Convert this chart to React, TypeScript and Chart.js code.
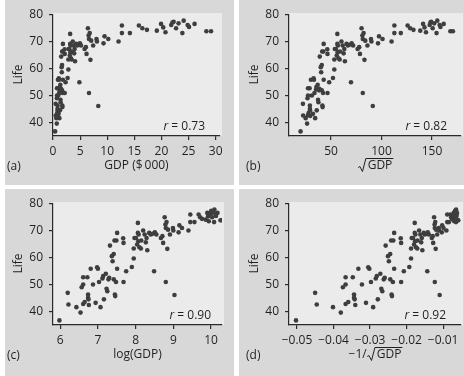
import React, { useEffect, useRef } from 'react';
import { Chart, registerables } from 'chart.js';

Chart.register(...registerables);

// natural log of GDP per head ($)
const lnGdp = [
  5.98, 6.2, 6.22, 6.43, 6.54, 6.57, 6.61, 6.61, 6.61, 6.65,
  6.72, 6.74, 6.74, 6.75, 6.76, 6.81, 6.87, 6.94, 6.98, 7.0,
  7.03, 7.07, 7.12, 7.14, 7.16, 7.21, 7.23, 7.25, 7.28, 7.3,
  7.32, 7.37, 7.39, 7.42, 7.42, 7.44, 7.45, 7.46, 7.48, 7.49,
  7.51, 7.51, 7.67, 7.68, 7.68, 7.75, 7.9, 7.95, 7.95, 7.97,
  8.01, 8.04, 8.06, 8.06, 8.07, 8.08, 8.1, 8.14, 8.15, 8.2,
  8.24, 8.27, 8.29, 8.31, 8.36, 8.4, 8.45, 8.51, 8.49, 8.55,
  8.67, 8.71, 8.73, 8.77, 8.79, 8.8, 8.8, 8.82, 8.84, 8.86,
  8.91, 8.99, 9.0, 9.03, 9.14, 9.16, 9.23, 9.4, 9.45, 9.45,
  9.56, 9.67, 9.71, 9.76, 9.86, 9.9, 9.92, 9.94, 9.99, 10.01,
  10.03, 10.05, 10.08, 10.09, 10.12, 10.17, 10.25, 10.28, 10.13, 10.0,
];
// life expectancy (years)
const life = [
  36.9, 47.1, 42.8, 41.8, 39.8, 49.2, 52.9, 50.2, 43.0, 43.7,
  52.9, 46.5, 45.3, 44.7, 42.6, 56.0, 50.2, 43.4, 56.6, 56.0,
  51.1, 41.8, 52.4, 53.3, 44.7, 54.2, 48.6, 47.7, 52.1, 52.7,
  64.6, 60.7, 58.8, 61.5, 52.1, 66.5, 46.5, 45.9, 51.1, 66.5,
  69.3, 56.0, 67.3, 65.6, 51.1, 55.1, 56.7, 59.8, 63.5, 67.4,
  67.4, 65.0, 69.3, 73.0, 66.2, 68.7, 64.0, 63.5, 66.5, 70.2,
  68.7, 65.8, 67.4, 62.9, 69.3, 68.7, 69.0, 69.5, 55.1, 68.7,
  67.4, 68.1, 65.6, 75.1, 72.4, 71.1, 51.1, 73.3, 63.4, 70.5,
  68.7, 71.1, 70.2, 46.3, 69.5, 72.1, 71.1, 70.2, 76.1, 73.3,
  73.3, 76.1, 75.1, 74.5, 74.2, 76.7, 75.4, 73.6, 76.3, 77.5,
  75.1, 76.9, 73.3, 77.9, 76.3, 76.7, 74.0, 74.0, 75.6, 77.2,
];

const yTicks = [40, 50, 60, 70, 80];
const xTicksA = [0, 5, 10, 15, 20, 25, 30];
const xTicksB = [50, 100, 150];
const xTicksC = [6, 7, 8, 9, 10];
const xTicksD = [-0.05, -0.04, -0.03, -0.02, -0.01];
const rValues = ['0.73', '0.82', '0.90', '0.92'];
const panelLabels = ['(a)', '(b)', '(c)', '(d)'];

const FONT = '"Open Sans", "DejaVu Sans", sans-serif';
const TEXT = '#231f20';
const AXIS = '#2a2a2a';
const OUTER = '#d8d8d8';
const INNER = '#ebebeb';
const DOT = '#3e3e3e';

type Panel = {
  box: { left: number; top: number; w: number; h: number };
  area: { left: number; right: number; top: number; bottom: number };
  xMin: number;
  xMax: number;
  xTicks: number[];
  xs: number[];
  titleParts: { pre: string; rad: boolean; post: string };
  label: string;
  labelX: number;
  lifeX: number;
  r: string;
  rRight: number;
  fmt: (v: number) => string;
};

const minus = (s: string) => s.replace('-', '\u2212');

const panels: Panel[] = [
  {
    box: { left: 5, top: 0, w: 229, h: 185 },
    area: { left: 48, right: 215, top: 15, bottom: 136 },
    xMin: 0, xMax: 30.8, xTicks: xTicksA,
    xs: lnGdp.map((v) => Math.exp(v) / 1000),
    titleParts: { pre: 'GDP ($\u2009000)', rad: false, post: '' },
    label: panelLabels[0], labelX: 2, lifeX: 14, r: rValues[0], rRight: 200,
    fmt: (v) => String(v),
  },
  {
    box: { left: 239, top: 0, w: 225, h: 185 },
    area: { left: 50, right: 222, top: 15, bottom: 136 },
    xMin: 8.4, xMax: 178.7, xTicks: xTicksB,
    xs: lnGdp.map((v) => Math.exp(v / 2)),
    titleParts: { pre: '', rad: true, post: 'GDP' },
    label: panelLabels[1], labelX: 7, lifeX: 16, r: rValues[1], rRight: 208,
    fmt: (v) => String(v),
  },
  {
    box: { left: 5, top: 189, w: 229, h: 187 },
    area: { left: 48, right: 217, top: 15, bottom: 136 },
    xMin: 5.81, xMax: 10.29, xTicks: xTicksC,
    xs: lnGdp.slice(),
    titleParts: { pre: 'log(GDP)', rad: false, post: '' },
    label: panelLabels[2], labelX: 2, lifeX: 14, r: rValues[2], rRight: 206,
    fmt: (v) => String(v),
  },
  {
    box: { left: 239, top: 189, w: 225, h: 187 },
    area: { left: 50, right: 222, top: 15, bottom: 136 },
    xMin: -0.0522, xMax: -0.0051, xTicks: xTicksD,
    xs: lnGdp.map((v) => -Math.exp(-v / 2)),
    titleParts: { pre: '\u22121/', rad: true, post: 'GDP' },
    label: panelLabels[3], labelX: 7, lifeX: 16, r: rValues[3], rRight: 207,
    fmt: (v) => minus(v.toFixed(2)),
  },
];

function PanelChart({ p }: { p: Panel }) {
  const ref = useRef<HTMLCanvasElement>(null);
  useEffect(() => {
    if (!ref.current) return;
    const decor = {
      id: 'decor',
      beforeDraw(chart: any) {
        const { ctx, chartArea: a } = chart;
        ctx.save();
        ctx.fillStyle = OUTER;
        ctx.fillRect(0, 0, chart.width, chart.height);
        ctx.fillStyle = INNER;
        ctx.fillRect(a.left, a.top - 2, a.right - a.left + 2, a.bottom - a.top + 2);
        ctx.restore();
      },
      afterDraw(chart: any) {
        const { ctx, chartArea: a } = chart;
        ctx.save();
        ctx.fillStyle = TEXT;
        ctx.font = `12px ${FONT}`;
        ctx.textBaseline = 'middle';
        // panel label
        ctx.textAlign = 'left';
        ctx.fillText(p.label, p.labelX, 167);
        // y title
        ctx.save();
        ctx.translate(p.lifeX, (a.top + a.bottom) / 2 - 1);
        ctx.rotate(-Math.PI / 2);
        ctx.textAlign = 'center';
        ctx.fillText('Life', 0, 0);
        ctx.restore();
        // x title
        const t = p.titleParts;
        const wPre = ctx.measureText(t.pre).width;
        const wRad = t.rad ? 10 : 0;
        const wPost = ctx.measureText(t.post).width;
        const total = wPre + wRad + wPost;
        let x = (a.left + a.right) / 2 - total / 2;
        const ty = 166;
        ctx.textAlign = 'left';
        ctx.fillText(t.pre, x, ty);
        x += wPre;
        if (t.rad) {
          ctx.strokeStyle = TEXT;
          ctx.lineWidth = 1;
          ctx.lineJoin = 'miter';
          ctx.beginPath();
          ctx.moveTo(x + 0.5, ty + 1.5);
          ctx.lineTo(x + 2.2, ty + 0.5);
          ctx.lineTo(x + 4.8, ty + 5.5);
          ctx.lineTo(x + 8.2, ty - 7.5);
          ctx.lineTo(x + wRad + wPost + 1, ty - 7.5);
          ctx.stroke();
          x += wRad;
        }
        ctx.fillText(t.post, x, ty);
        // r value
        const rest = ' = ' + p.r;
        const wRest = ctx.measureText(rest).width;
        ctx.textAlign = 'right';
        ctx.fillText(rest, p.rRight, 127);
        ctx.font = `italic 12px ${FONT}`;
        ctx.fillText('r', p.rRight - wRest, 127);
        ctx.restore();
      },
    };
    const chart = new Chart(ref.current, {
      type: 'scatter',
      data: {
        datasets: [
          {
            data: p.xs.map((x, i) => ({ x, y: life[i] })),
            backgroundColor: DOT,
            borderWidth: 0,
            pointRadius: 2.3,
          },
        ],
      },
      options: {
        animation: false,
        responsive: false,
        devicePixelRatio: 1,
        events: [],
        layout: {
          autoPadding: false,
          padding: { left: 0, top: p.area.top, right: p.box.w - p.area.right, bottom: 0 },
        },
        plugins: { legend: { display: false }, tooltip: { enabled: false } },
        scales: {
          x: {
            type: 'linear',
            min: p.xMin,
            max: p.xMax,
            afterFit: (s: any) => { s.height = p.box.h - p.area.bottom; },
            afterBuildTicks: (s: any) => { s.ticks = p.xTicks.map((v) => ({ value: v })); },
            grid: { display: true, drawOnChartArea: false, drawTicks: true, tickLength: 4, color: AXIS, lineWidth: 1.2 },
            border: { display: true, color: AXIS, width: 1.2 },
            ticks: {
              padding: 4,
              color: TEXT,
              font: { family: FONT, size: 12 },
              maxRotation: 0,
              autoSkip: false,
              callback: (v: any) => p.fmt(Number(v)),
            },
          },
          y: {
            type: 'linear',
            min: 35.2,
            max: 80,
            afterFit: (s: any) => { s.width = p.area.left; },
            afterBuildTicks: (s: any) => { s.ticks = yTicks.map((v) => ({ value: v })); },
            grid: { display: true, drawOnChartArea: false, drawTicks: true, tickLength: 4, color: AXIS, lineWidth: 1.2 },
            border: { display: true, color: AXIS, width: 1.2 },
            ticks: {
              padding: 6,
              color: TEXT,
              font: { family: FONT, size: 12 },
              autoSkip: false,
              callback: (v: any) => String(v),
            },
          },
        },
      },
      plugins: [decor],
    });
    return () => chart.destroy();
  }, [p]);
  return (
    <canvas
      ref={ref}
      width={p.box.w}
      height={p.box.h}
      style={{ position: 'absolute', left: p.box.left, top: p.box.top, width: p.box.w, height: p.box.h }}
    />
  );
}

export default function App() {
  return (
    <div style={{ position: 'fixed', left: 0, top: 0, width: 464, height: 376, background: '#ffffff', overflow: 'hidden' }}>
      {panels.map((p, i) => (
        <PanelChart key={i} p={p} />
      ))}
    </div>
  );
}
